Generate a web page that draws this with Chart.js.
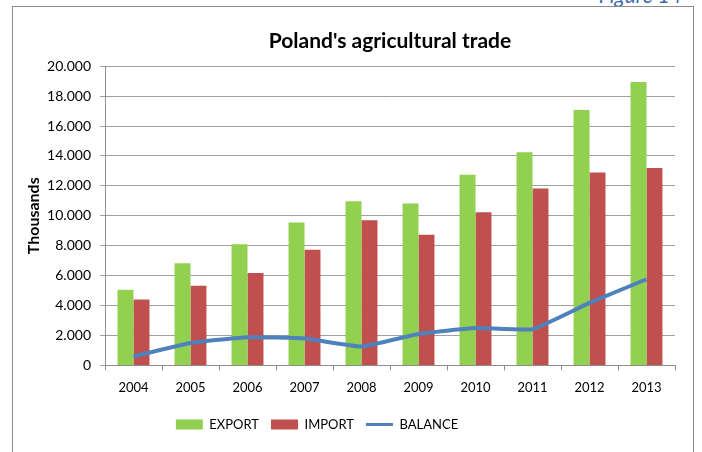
<!DOCTYPE html>
<html>
<head>
<meta charset="utf-8">
<script src="https://cdn.jsdelivr.net/npm/chart.js"></script>
<style>
  body { margin: 0; background: #fff; width: 702px; height: 452px; overflow: hidden; position: relative; }
  #fig { position: absolute; right: 20px; top: -18px; font: italic 21px Lato, sans-serif; color: #3a6aad; }
  #frame { position: absolute; left: 12px; top: 6px; width: 680px; height: 460px;
           border: 1.5px solid #8c8c8c; border-bottom: none; }
  #wrap { position: absolute; left: 0; top: 0; width: 680px; height: 446px; }
</style>
</head>
<body>
<div id="fig">Figure 14</div>
<div id="frame"><div id="wrap"><canvas id="myChart"></canvas></div></div>
<script>
// values (thousands)
var years = ['2004', '2005', '2006', '2007', '2008', '2009', '2010', '2011', '2012', '2013'];
var exportVals = [5050, 6820, 8090, 9550, 10980, 10820, 12750, 14250, 17080, 18950];
var importVals = [4400, 5320, 6180, 7730, 9700, 8740, 10230, 11830, 12900, 13190];
var balanceVals = [600, 1500, 1880, 1800, 1260, 2100, 2500, 2420, 4180, 5760];

var font = 'Lato, sans-serif';

// legend sits a bit left of centre in the original
var legendShift = {
  id: 'legendShift',
  afterLayout: function (chart) {
    chart.legend.left -= 30;
    chart.legend.right -= 30;
  }
};

var ctx = document.getElementById('myChart').getContext('2d');
var myChart = new Chart(ctx, {
  type: 'bar',
  data: {
    labels: years,
    datasets: [
      { type: 'line', label: 'BALANCE', data: balanceVals, borderColor: '#4f81bd', backgroundColor: '#4f81bd',
        borderWidth: 4, pointRadius: 0, tension: 0.12, order: 0 },
      { label: 'EXPORT', data: exportVals, backgroundColor: '#92d050', order: 1 },
      { label: 'IMPORT', data: importVals, backgroundColor: '#c0504d', order: 1 }
    ]
  },
  options: {
    responsive: true,
    maintainAspectRatio: false,
    animation: false,
    layout: { padding: { top: 22, right: 18, left: 6, bottom: 12 } },
    datasets: { bar: { barPercentage: 1, categoryPercentage: 0.56 } },
    plugins: {
      title: { display: true, fullSize: false, text: "Poland's agricultural trade", color: '#000',
        font: { family: font, size: 21, weight: 'bold' }, padding: { top: 0, bottom: 12 } },
      legend: {
        position: 'bottom',
        labels: {
          color: '#000', font: { family: font, size: 13 }, padding: 12,
          usePointStyle: true, pointStyleWidth: 27, boxHeight: 10,
          generateLabels: function (chart) {
            var order = [1, 2, 0];
            return order.map(function (i) {
              var ds = chart.data.datasets[i];
              return { text: ds.label, fillStyle: ds.backgroundColor, strokeStyle: ds.borderColor || ds.backgroundColor,
                lineWidth: i === 0 ? 3 : 0, pointStyle: i === 0 ? 'line' : 'rect', datasetIndex: i, hidden: false };
            });
          }
        }
      },
      tooltip: { enabled: false }
    },
    scales: {
      x: {
        offset: true,
        grid: { offset: true, drawOnChartArea: false, drawTicks: true, tickLength: 5, color: '#8c8c8c' },
        border: { color: '#8c8c8c' },
        ticks: { color: '#000', font: { family: font, size: 13 }, padding: 10 }
      },
      y: {
        min: 0, max: 20000,
        ticks: { stepSize: 2000, color: '#000', font: { family: font, size: 14 }, padding: 9,
          callback: function (v) { return v === 0 ? '0' : (v / 1000).toFixed(3); } },
        grid: { color: '#a0a0a0', tickLength: 5 },
        border: { color: '#8c8c8c' },
        title: { display: true, text: 'Thousands', color: '#000', font: { family: font, size: 16, weight: 'bold' }, padding: 5 },
        afterFit: function (scale) { scale.width = 86; }
      }
    }
  },
  plugins: [legendShift]
});
</script>
</body>
</html>
